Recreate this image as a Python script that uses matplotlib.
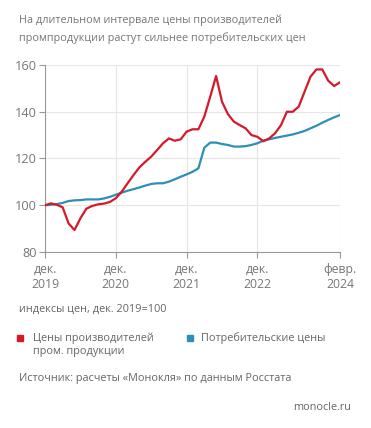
import matplotlib.pyplot as plt
import numpy as np

# Monthly price indices, Dec 2019 = 100 (Dec 2019 .. Feb 2024)
producer = [100.0, 100.8, 100.2, 99.1, 92.2, 89.4, 94.4, 98.5, 99.7, 100.4,
            100.7, 101.4, 103.0, 105.8, 109.4, 112.9, 116.2, 118.6, 120.8, 123.6,
            126.5, 128.6, 127.6, 128.2, 131.5, 132.5, 132.5, 137.9, 146.4, 155.3,
            144.3, 139.0, 135.8, 134.3, 132.9, 130.0, 129.3, 127.4, 128.6, 130.8,
            134.3, 140.0, 140.0, 142.2, 148.6, 155.0, 158.1, 158.1, 153.3, 151.0,
            152.6]
consumer = [100.0, 100.2, 100.5, 101.0, 101.8, 102.1, 102.2, 102.5, 102.5, 102.5,
            102.9, 103.6, 104.5, 105.4, 106.2, 106.9, 107.6, 108.4, 109.1, 109.4,
            109.4, 110.1, 111.1, 112.2, 113.2, 114.3, 115.8, 124.6, 126.8, 126.8,
            126.2, 125.8, 125.1, 125.1, 125.3, 125.8, 126.5, 127.6, 128.2, 128.8,
            129.3, 129.8, 130.3, 131.0, 131.8, 132.9, 134.0, 135.3, 136.5, 137.6,
            138.6]
tick_months = [0, 12, 24, 36, 50]
tick_labels = ['дек.\n2019', 'дек.\n2020', 'дек.\n2021', 'дек.\n2022', 'февр.\n2024']
y_ticks = [80, 100, 120, 140, 160]

RED = '#d5192b'
BLUE = '#2d8fb8'
GREY = '#777777'
plt.rcParams['font.family'] = ['Open Sans', 'DejaVu Sans']

fig = plt.figure(figsize=(3.71, 4.28), dpi=100)
ax = fig.add_axes([45 / 371, 1 - 252 / 428, 295 / 371, 187 / 428])

months = np.arange(len(consumer))
ax.plot(months, consumer, color=BLUE, lw=1.6, zorder=3)
ax.plot(months, producer, color=RED, lw=1.6, zorder=4)

ax.set_xlim(0, 50)
ax.set_ylim(80, 160)
ax.set_xticks(tick_months)
ax.set_xticklabels(tick_labels, fontsize=8.8, color=GREY, linespacing=1.2)
ax.set_yticks(y_ticks)
ax.tick_params(axis='y', labelsize=9.2, labelcolor=GREY, length=4, color='#999999', pad=2)
ax.tick_params(axis='x', length=4, color='#999999', pad=4)
ax.grid(True, color='#e6e6e6', lw=0.8)
for s in ['top', 'right']:
    ax.spines[s].set_visible(False)
for s in ['left', 'bottom']:
    ax.spines[s].set_color('#999999')
    ax.spines[s].set_linewidth(0.8)

fig.text(19 / 371, 1 - 15 / 428, 'На длительном интервале цены производителей\nпромпродукции растут сильнее потребительских цен',
         fontsize=7.8, color=GREY, va='top', linespacing=1.6)
fig.text(19 / 371, 1 - 309 / 428, 'индексы цен, дек. 2019=100', fontsize=7.8, color='#666666', va='center')

fig.patches.append(plt.Rectangle((17 / 371, 1 - 341 / 428), 6 / 371, 6 / 428, color=RED,
                                 transform=fig.transFigure, figure=fig))
fig.text(33 / 371, 1 - 332 / 428, 'Цены производителей\nпром. продукции', fontsize=7.8, color='#666666',
         va='top', linespacing=1.3)
fig.patches.append(plt.Rectangle((187 / 371, 1 - 341 / 428), 6 / 371, 6 / 428, color=BLUE,
                                 transform=fig.transFigure, figure=fig))
fig.text(201 / 371, 1 - 332 / 428, 'Потребительские цены', fontsize=7.8, color='#666666', va='top')

fig.text(19 / 371, 1 - 379 / 428, 'Источник: расчеты «Монокля» по данным Росстата', fontsize=7.8,
         color='#666666', va='center')
fig.text(351 / 371, 1 - 407 / 428, 'monocle.ru', fontsize=7.8, color='#666666', va='center', ha='right')

plt.savefig('out.png', dpi=100)
